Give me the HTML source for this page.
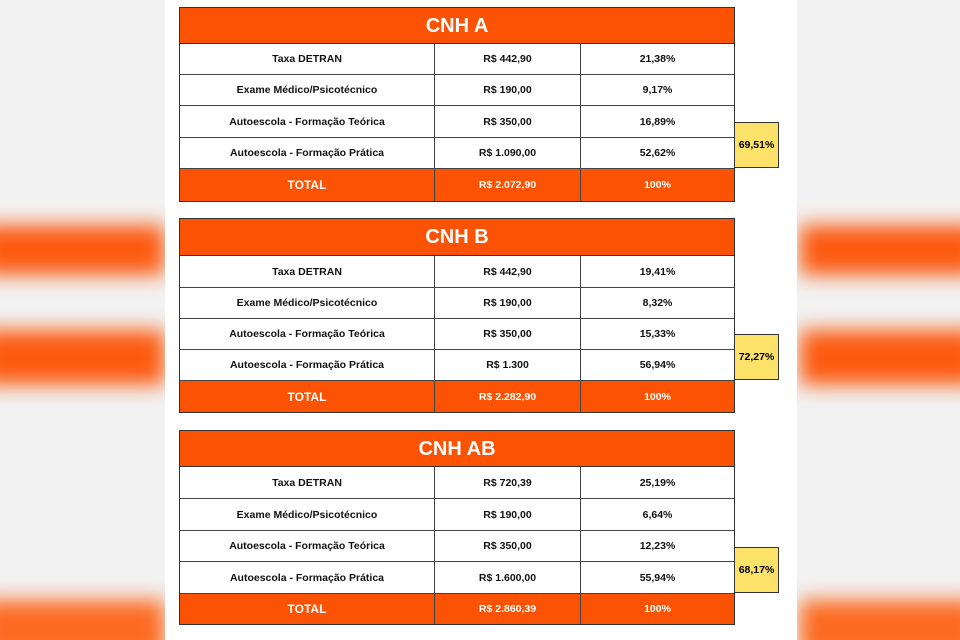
<!DOCTYPE html>
<html><head><meta charset="utf-8"><style>
html,body{margin:0;width:960px;height:640px;overflow:hidden}
body{background:#f2f2f2;position:relative;font-family:"Liberation Sans",Arial,sans-serif}
*{box-sizing:border-box}
.bg{position:absolute;filter:blur(10px)}
.panel{position:absolute;left:165px;top:0;width:632px;height:640px;background:#fff}
.t{position:absolute;left:179px;width:556px;border:1px solid #333}
.h{background:#fc5204;color:#fff;font-weight:bold;font-size:20px;text-align:center;border-bottom:1px solid #333}
.r{display:flex;border-bottom:1px solid #444;font-size:10.5px;font-weight:bold;color:#111}
.r div{display:flex;align-items:center;justify-content:center}
.c1{width:255px;border-right:1px solid #444}.c2{width:146px;border-right:1px solid #444}.c3{flex:1}
.tot{background:#fc5204;color:#fff;border-bottom:none}
.y{position:absolute;left:734px;width:45px;background:#fde26a;border:1px solid #333;font-size:10.5px;font-weight:bold;display:flex;align-items:center;justify-content:center}
</style></head><body>
<div class="bg" style="left:-20px;top:225px;width:185px;height:50px;background:#fc5a10"></div>
<div class="bg" style="left:-20px;top:330px;width:185px;height:55px;background:#fc5a10"></div>
<div class="bg" style="left:-20px;top:600px;width:185px;height:60px;background:#fc6a20"></div>
<div class="bg" style="left:800px;top:225px;width:180px;height:50px;background:#fc5a10"></div>
<div class="bg" style="left:800px;top:330px;width:180px;height:55px;background:#fc5a10"></div>
<div class="bg" style="left:800px;top:600px;width:180px;height:60px;background:#fc6a20"></div>
<div class="panel"></div>

<div class="t" style="top:7px;height:195px">
<div class="h" style="height:36px;line-height:36px">CNH A</div>
<div class="r" style="height:31px"><div class="c1">Taxa DETRAN</div><div class="c2">R$ 442,90</div><div class="c3">21,38%</div></div>
<div class="r" style="height:31px"><div class="c1">Exame Médico/Psicotécnico</div><div class="c2">R$ 190,00</div><div class="c3">9,17%</div></div>
<div class="r" style="height:32px"><div class="c1">Autoescola - Formação Teórica</div><div class="c2">R$ 350,00</div><div class="c3">16,89%</div></div>
<div class="r" style="height:31px"><div class="c1">Autoescola - Formação Prática</div><div class="c2">R$ 1.090,00</div><div class="c3">52,62%</div></div>
<div class="r tot" style="height:32px"><div class="c1" style="font-size:12px">TOTAL</div><div class="c2">R$ 2.072,90</div><div class="c3">100%</div></div>
</div>
<div class="y" style="top:122px;height:46px">69,51%</div>

<div class="t" style="top:218px;height:195px">
<div class="h" style="height:37px;line-height:37px">CNH B</div>
<div class="r" style="height:32px"><div class="c1">Taxa DETRAN</div><div class="c2">R$ 442,90</div><div class="c3">19,41%</div></div>
<div class="r" style="height:31px"><div class="c1">Exame Médico/Psicotécnico</div><div class="c2">R$ 190,00</div><div class="c3">8,32%</div></div>
<div class="r" style="height:31px"><div class="c1">Autoescola - Formação Teórica</div><div class="c2">R$ 350,00</div><div class="c3">15,33%</div></div>
<div class="r" style="height:31px"><div class="c1">Autoescola - Formação Prática</div><div class="c2">R$ 1.300</div><div class="c3">56,94%</div></div>
<div class="r tot" style="height:31px"><div class="c1" style="font-size:12px">TOTAL</div><div class="c2">R$ 2.282,90</div><div class="c3">100%</div></div>
</div>
<div class="y" style="top:334px;height:46px">72,27%</div>

<div class="t" style="top:430px;height:195px">
<div class="h" style="height:36px;line-height:36px">CNH AB</div>
<div class="r" style="height:32px"><div class="c1">Taxa DETRAN</div><div class="c2">R$ 720,39</div><div class="c3">25,19%</div></div>
<div class="r" style="height:32px"><div class="c1">Exame Médico/Psicotécnico</div><div class="c2">R$ 190,00</div><div class="c3">6,64%</div></div>
<div class="r" style="height:31px"><div class="c1">Autoescola - Formação Teórica</div><div class="c2">R$ 350,00</div><div class="c3">12,23%</div></div>
<div class="r" style="height:32px"><div class="c1">Autoescola - Formação Prática</div><div class="c2">R$ 1.600,00</div><div class="c3">55,94%</div></div>
<div class="r tot" style="height:30px"><div class="c1" style="font-size:12px">TOTAL</div><div class="c2">R$ 2.860,39</div><div class="c3">100%</div></div>
</div>
<div class="y" style="top:547px;height:46px">68,17%</div>
</body></html>
